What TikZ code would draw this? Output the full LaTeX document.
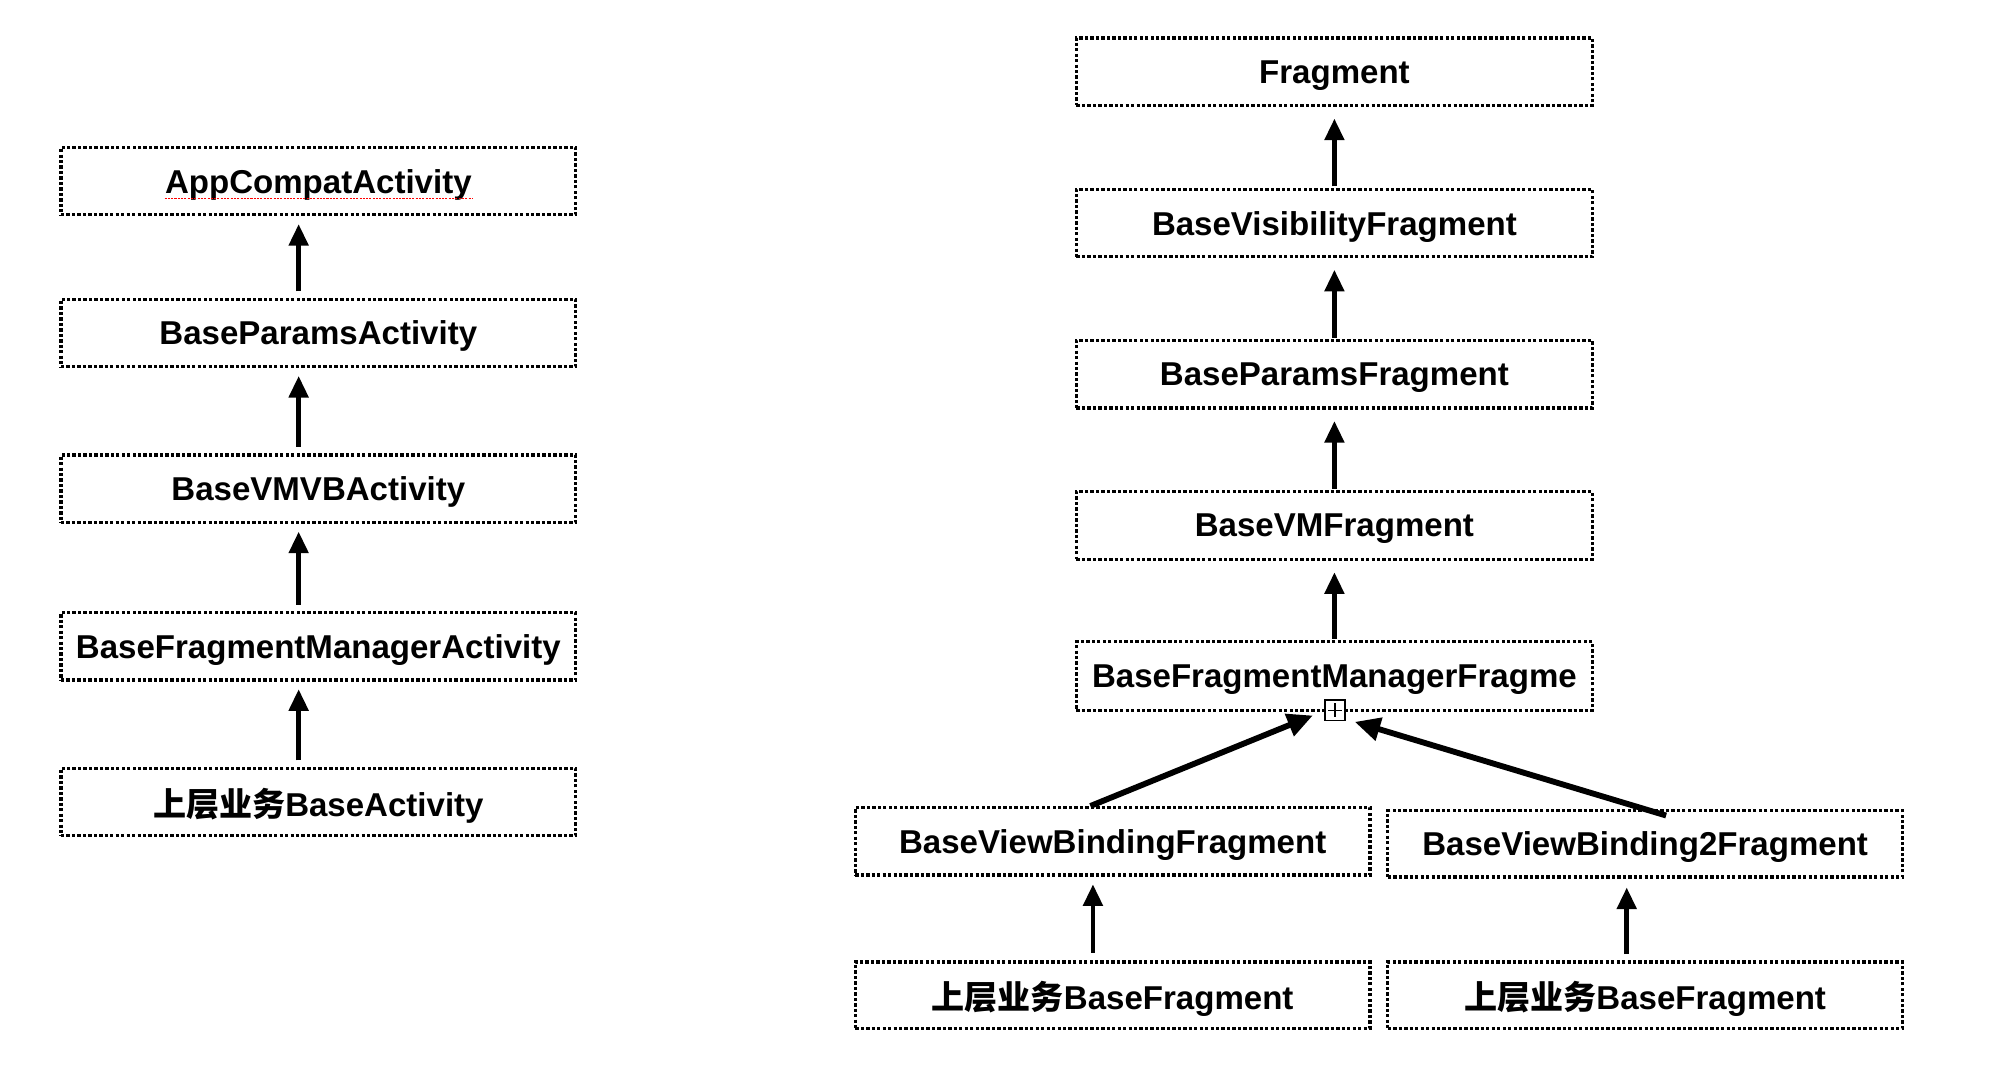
\documentclass[tikz,border=0pt]{standalone}
\usepackage{fontspec}
\setmainfont{Liberation Sans}
\newfontfamily\cjk{Noto Sans CJK SC}
\usetikzlibrary{arrows.meta,calc}
\begin{document}
\begin{tikzpicture}[x=1pt,y=-1pt,
  cls/.style={draw=black,line width=2.6pt,dash pattern=on 2.6pt off 1.7pt,
    minimum width=405pt,minimum height=53pt,inner sep=0pt,text depth=0pt,
    font=\fontsize{26}{30}\selectfont\bfseries},
  inh/.style={line width=3.8pt,-{Triangle[length=17pt,width=15pt]}},
  inhd/.style={line width=4.6pt,-{Triangle[length=20pt,width=18pt]}}]
\useasboundingbox (0,0) rectangle (1569,847);
% left column
\node[cls] (a1) at (250.5,142.5) {AppCompatActivity};
\node[cls] (a2) at (250.5,262) {BaseParamsActivity};
\node[cls] (a3) at (250.5,384.5) {BaseVMVBActivity};
\node[cls] (a4) at (250.5,508.5) {BaseFragmentManagerActivity};
\node[cls] (a5) at (250.5,631) {{\cjk\bfseries 上层业务}BaseActivity};
\draw[red,line width=1pt,dash pattern=on 1.6pt off 1pt] ($(a1.center)+(-121,13.5)$) -- ($(a1.center)+(122,13.5)$);
\foreach \u/\l in {a1/a2,a2/a3,a3/a4,a4/a5}
  \draw[inh,shorten <=5pt,shorten >=6pt] ([xshift=-15.5pt]\l.north) -- ([xshift=-15.5pt]\u.south);
% right column
\node[cls,minimum width=406pt] (f1) at (1050,56.5) {Fragment};
\node[cls,minimum width=406pt] (f2) at (1050,175.5) {BaseVisibilityFragment};
\node[cls,minimum width=406pt] (f3) at (1050,294.5) {BaseParamsFragment};
\node[cls,minimum width=406pt] (f4) at (1050,413.5) {BaseVMFragment};
\node[cls,minimum width=406pt,minimum height=54pt] (f5) at (1050,532) {BaseFragmentManagerFragme};
\node[cls] (f6) at (875.5,662) {BaseViewBindingFragment};
\node[cls,minimum height=52pt] (f7) at (1294.5,664) {BaseViewBinding2Fragment};
\node[cls,minimum height=52pt] (f8) at (875.5,783) {{\cjk\bfseries 上层业务}BaseFragment};
\node[cls,minimum height=52pt] (f9) at (1294.5,783) {{\cjk\bfseries 上层业务}BaseFragment};
\foreach \u/\l in {f1/f2,f2/f3,f3/f4,f4/f5}
  \draw[inh,shorten <=1pt,shorten >=9pt] (\l.north) -- (\u.south);
\draw[inh,shorten <=6pt,shorten >=6pt] ([xshift=-15.5pt]f8.north) -- ([xshift=-15.5pt]f6.south);
\draw[inh,shorten <=5pt,shorten >=7pt] ([xshift=-14.5pt]f9.north) -- ([xshift=-14.5pt]f7.south);
% expand marker
\node[draw=black,fill=white,line width=1.3pt,minimum size=16pt,inner sep=0pt] (pl) at (1050.5,559) {};
\draw[line width=1.2pt] ($(pl.center)+(-5.5,0)$) -- ($(pl.center)+(5.5,0)$)
  ($(pl.center)+(0,-5.5)$) -- ($(pl.center)+(0,5.5)$);
\coordinate (t1) at (1033,563);
\coordinate (t2) at (1066,568);
\draw[inhd] ([xshift=-17.5pt]f6.north) -- (t1);
\draw[inhd] ([xshift=16.5pt,yshift=-5pt]f7.north) -- (t2);
\end{tikzpicture}
\end{document}
